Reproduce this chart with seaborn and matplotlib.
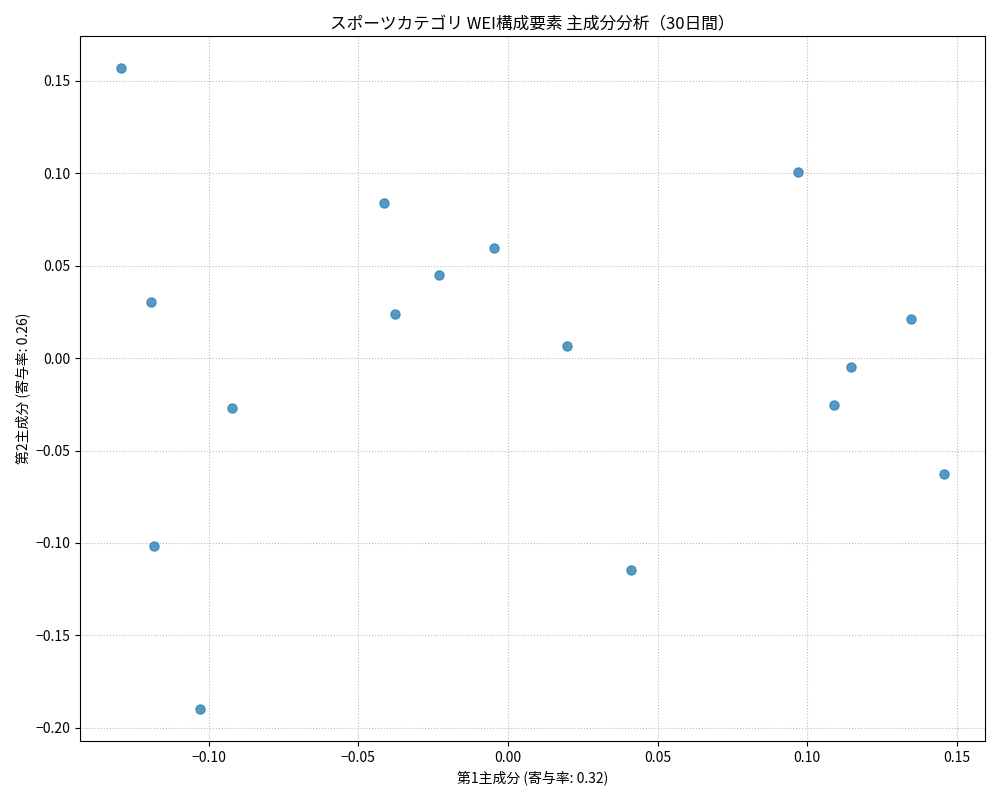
import matplotlib
matplotlib.use("Agg")
import matplotlib.pyplot as plt
import seaborn as sns
import pandas as pd

# 主成分スコア
pc1 = [-0.1293, -0.1195, -0.1185, -0.1028, -0.0923, -0.0413, -0.0379, -0.0232,
       -0.0047, 0.0198, 0.0410, 0.0970, 0.1091, 0.1148, 0.1347, 0.1457]
pc2 = [0.1568, 0.0303, -0.1016, -0.1897, -0.0270, 0.0838, 0.0238, 0.0449,
       0.0595, 0.0065, -0.1146, 0.1005, -0.0254, -0.0049, 0.0211, -0.0627]
ratio1 = 0.32
ratio2 = 0.26

df = pd.DataFrame({"PC1": pc1, "PC2": pc2})

plt.rcParams['font.family'] = ['Noto Sans CJK JP', 'DejaVu Sans']
plt.rcParams['axes.unicode_minus'] = True

fig, ax = plt.subplots(figsize=(10, 8), dpi=100)
sns.scatterplot(data=df, x="PC1", y="PC2", ax=ax, s=45, alpha=0.75,
                color="#1f77b4", edgecolor="#1f77b4", linewidth=0.8)
ax.set_title("スポーツカテゴリ WEI構成要素 主成分分析（30日間）")
ax.set_xlabel(f"第1主成分 (寄与率: {ratio1:.2f})")
ax.set_ylabel(f"第2主成分 (寄与率: {ratio2:.2f})")
ax.grid(True, linestyle=":", color="#bbbbbb")
ax.set_axisbelow(True)

plt.tight_layout()
plt.savefig("out.png")
